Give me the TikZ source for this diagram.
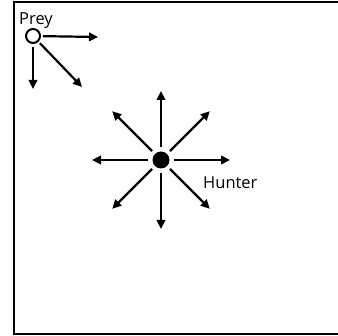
\documentclass[tikz,border=0pt]{standalone}
\usepackage{fontspec}
\setmainfont{Open Sans}
\usetikzlibrary{arrows.meta, positioning, calc}
\tikzset{
  agent/.style = {circle, draw=black, line width=2pt, minimum size=14pt, inner sep=0pt},
  hunt/.style  = {circle, fill=black, minimum size=17pt, inner sep=0pt},
  mv/.style    = {-{Triangle[length=9pt,width=8.5pt]}, line width=2.2pt},
  lbl/.style   = {font=\fontsize{16.5}{18}\selectfont, inner sep=0pt},
}
\begin{document}
\begin{tikzpicture}[x=1pt, y=-1pt]
  \useasboundingbox (0,0) rectangle (338,336);

  % Arena
  \draw[line width=2.4pt] (338,2) -- (14,2) -- (14,334) -- (338,334);

  % Prey and its moves
  \node[agent] (prey) at (33,36) {};
  \node[lbl, anchor=south west] (preylbl) at (19,29) {Prey};
  \coordinate (pE)  at (98,37);
  \coordinate (pS)  at (33,89);
  \coordinate (pSE) at (82,87);
  \draw[mv, shorten <=2pt] (prey) -- (pE);
  \draw[mv, shorten <=3pt] (prey) -- (pS);
  \draw[mv, shorten <=2pt] (prey) -- (pSE);

  % Hunter and its moves
  \node[hunt] (hunter) at (161,160) {};
  \node[lbl, anchor=north west] (hunterlbl) at (203,177) {Hunter};
  \foreach \a in {0,45,...,315} {
    \coordinate (h\a) at ($(hunter)+(\a:69)$);
    \draw[mv, shorten <=4pt] (hunter) -- (h\a);
  }
\end{tikzpicture}
\end{document}
